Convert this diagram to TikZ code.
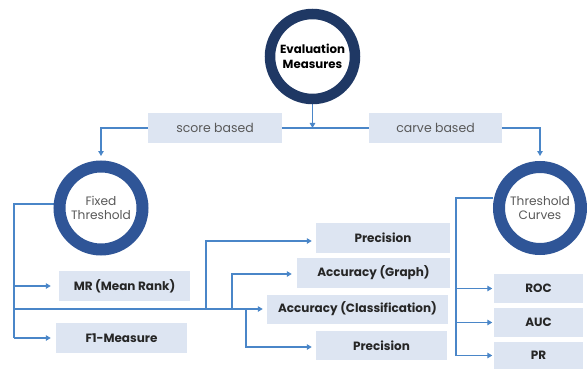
\documentclass[tikz,border=0pt]{standalone}
\usepackage{fontspec}
\setmainfont{Poppins}
\usetikzlibrary{arrows.meta,backgrounds,calc}
\definecolor{navy}{HTML}{1F3864}
\definecolor{ringblue}{HTML}{2F5597}
\definecolor{boxfill}{HTML}{DDE5F2}
\definecolor{linkblue}{HTML}{4A86C8}
\definecolor{txtdark}{HTML}{262626}
\definecolor{txtgrey}{HTML}{595959}

\begin{document}
\begin{tikzpicture}[x=1pt,y=-1pt,
  ring/.style={circle, draw=ringblue, line width=12pt, fill=white,
    minimum size=82pt, inner sep=0pt, align=center, text=txtgrey,
    font=\fontsize{12.2}{14.5}\selectfont},
  labelbox/.style={rectangle, fill=boxfill, inner sep=0pt, text=txtgrey,
    font=\fontsize{12.5}{14}\selectfont},
  itembox/.style={rectangle, fill=boxfill, inner sep=0pt, text=txtdark,
    font=\bfseries\fontsize{12}{14}\selectfont},
  conn/.style={draw=linkblue, line width=1.1pt},
  arr/.style={conn, -{Triangle[width=5.5pt,length=5pt]}, color=linkblue},
]
\useasboundingbox (0,0) rectangle (587,369);

% circles
\node[ring, draw=navy, line width=10.5pt, minimum size=85pt, text=black,
  font=\bfseries\fontsize{11.8}{14.5}\selectfont]
  (em) at (312.5,56.5) {Evaluation\\Measures};
\node[ring, minimum size=83pt] (ft) at (101,208) {Fixed\\Threshold};
\node[ring] (tc) at (540,208) {Threshold\\Curves};

% branch labels
\node[labelbox, minimum width=134pt, minimum height=30pt] (score) at (215,128) {score based};
\node[labelbox, minimum width=133pt, minimum height=30pt] (carve) at (435.5,128) {carve based};

% fixed-threshold measures
\node[itembox, minimum width=131pt, minimum height=30pt] (mr) at (124.5,286) {MR (Mean Rank)};
\node[itembox, minimum width=131pt, minimum height=30pt] (f1) at (121.5,338) {F1-Measure};
\node[itembox, minimum width=134pt, minimum height=30pt] (prec1) at (383,238) {Precision};
\node[itembox, minimum width=153pt, minimum height=30pt] (accg) at (373.5,273) {Accuracy (Graph)};
\node[itembox, minimum width=181pt, minimum height=29pt] (accc) at (357.5,309) {Accuracy (Classification)};
\node[itembox, minimum width=131pt, minimum height=29pt] (prec2) at (381.5,345.5) {Precision};

% threshold-curve measures
\node[itembox, minimum width=89pt, minimum height=29pt] (roc) at (538.5,288.5) {ROC};
\node[itembox, minimum width=89pt, minimum height=29pt] (auc) at (538.5,322.5) {AUC};
\node[itembox, minimum width=89pt, minimum height=27pt] (pr) at (538.5,355.5) {PR};

% spine points
\coordinate (lt) at (14,204);
\coordinate (rt) at (456,198);
\coordinate (b1) at (206,309);
\coordinate (b2) at (232,309);
\coordinate (b3) at (246,309);

\begin{scope}[on background layer]
  % top split
  \draw[arr] (em.south) -- (em.south |- score.east);
  \draw[conn] (score.east) -- (carve.west);
  \draw[arr, shorten >=4.5pt] (score.west) -| (ft.north);
  \draw[arr, shorten >=5pt] (carve.east) -| (tc.north);

  % fixed threshold tree
  \draw[conn] ([yshift=4pt]ft.west) -- (lt) -- (lt |- f1);
  \draw[arr, shorten >=8pt] (lt |- mr) -- (mr.west);
  \draw[arr, shorten >=5pt] (lt |- f1) -- (f1.west);
  \draw[arr, shorten >=4pt] (lt |- accc) -- (accc.west);
  \draw[arr, shorten >=4pt] (b1) |- ([yshift=-3pt]prec1.west);
  \draw[arr, shorten >=5pt] (b2) |- ([yshift=-1pt]accg.west);
  \draw[arr, shorten >=4pt] (b3) |- ([yshift=-1.5pt]prec2.west);

  % threshold curves tree
  \draw[conn] ([yshift=10pt]tc.west) -- (rt) -- (rt |- pr);
  \draw[arr, shorten >=1.5pt] (rt |- roc) -- (roc.west);
  \draw[arr, shorten >=1.5pt] (rt |- auc) -- (auc.west);
  \draw[arr, shorten >=1.5pt] (rt |- pr) -- (pr.west);
\end{scope}
\end{tikzpicture}
\end{document}
